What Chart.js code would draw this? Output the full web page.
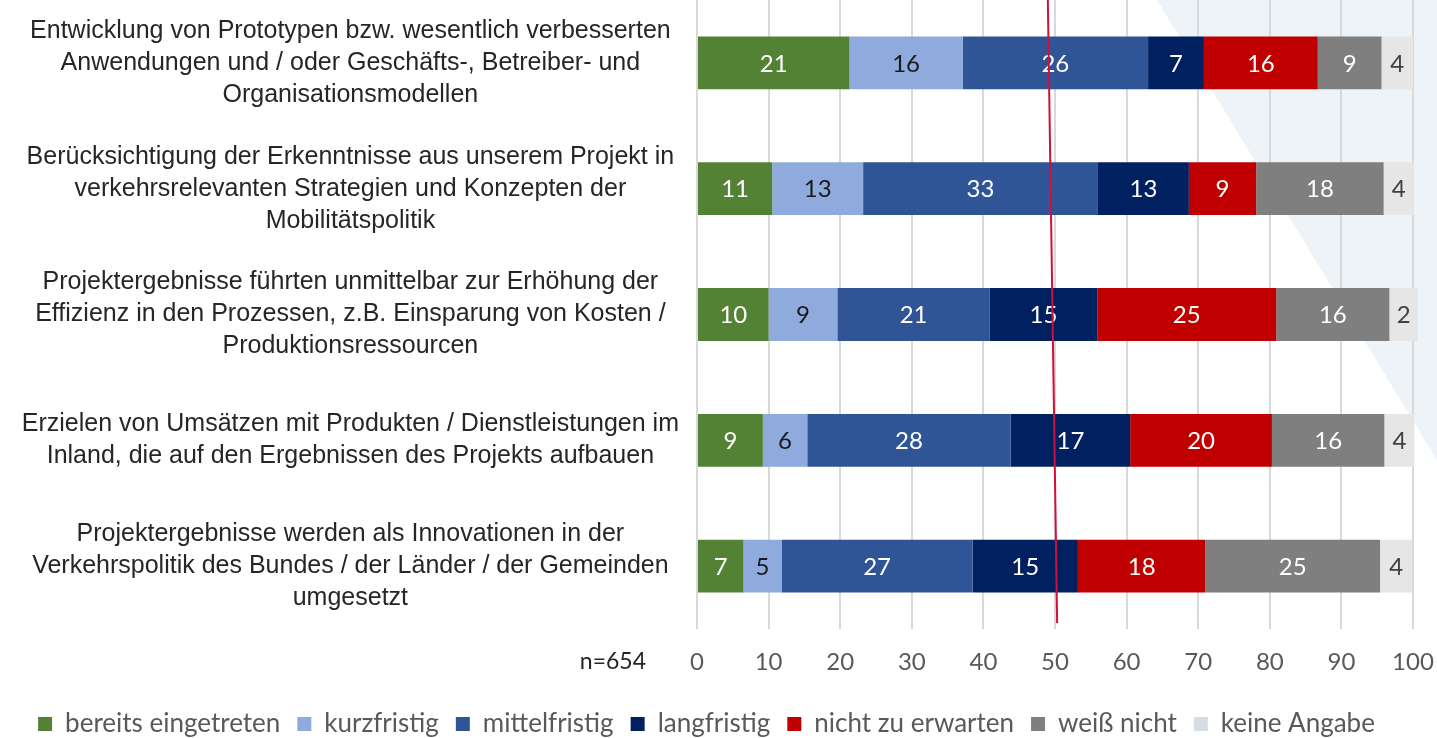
<!DOCTYPE html>
<html>
<head>
<meta charset="utf-8">
<script src="https://cdn.jsdelivr.net/npm/chart.js@4"></script>
<style>
  body { margin: 0; background: #fff; }
  #wrap { width: 1437px; height: 738px; }
</style>
</head>
<body>
<div id="wrap"><canvas id="chart" width="1437" height="738"></canvas></div>
<script>
const categories = [
  ["Entwicklung von Prototypen bzw. wesentlich verbesserten", "Anwendungen und / oder Geschäfts-, Betreiber- und", "Organisationsmodellen"],
  ["Berücksichtigung der Erkenntnisse aus unserem Projekt in", "verkehrsrelevanten Strategien und Konzepten der", "Mobilitätspolitik"],
  ["Projektergebnisse führten unmittelbar zur Erhöhung der", "Effizienz in den Prozessen, z.B. Einsparung von Kosten /", "Produktionsressourcen"],
  ["Erzielen von Umsätzen mit Produkten / Dienstleistungen im", "Inland, die auf den Ergebnissen des Projekts aufbauen"],
  ["Projektergebnisse werden als Innovationen in der", "Verkehrspolitik des Bundes / der Länder / der Gemeinden", "umgesetzt"]
];

const seriesNames = ["bereits eingetreten", "kurzfristig", "mittelfristig", "langfristig", "nicht zu erwarten", "weiß nicht", "keine Angabe"];

// bar lengths in percent
const bereitsEingetreten = [21.3, 10.5, 10.0, 9.2, 6.5];
const kurzfristig = [15.8, 12.7, 9.6, 6.2, 5.3];
const mittelfristig = [25.9, 32.8, 21.3, 28.4, 26.7];
const langfristig = [7.8, 12.7, 15.0, 16.7, 14.7];
const nichtZuErwarten = [15.9, 9.4, 25.0, 19.8, 17.8];
const weissNicht = [8.9, 17.8, 15.8, 15.7, 24.4];
const keineAngabe = [4.4, 4.2, 4.0, 4.2, 4.5];

// numbers printed on the bars
const printedBereits = [21, 11, 10, 9, 7];
const printedKurz = [16, 13, 9, 6, 5];
const printedMittel = [26, 33, 21, 28, 27];
const printedLang = [7, 13, 15, 17, 15];
const printedNicht = [16, 9, 25, 20, 18];
const printedWeiss = [9, 18, 16, 16, 25];
const printedKeine = [4, 4, 2, 4, 4];

const xTicks = [0, 10, 20, 30, 40, 50, 60, 70, 80, 90, 100];
const sampleNote = "n=654";
const markerTop = 49.0;
const markerBottom = 50.3;

const colors = ["#548235", "#8FAADC", "#2F5597", "#002060", "#C00000", "#7F7F7F", "#E7E6E6"];
const legendColors = ["#548235", "#8FAADC", "#2F5597", "#002060", "#C00000", "#7F7F7F", "#D6DCE5"];
const labelColors = ["#ffffff", "#1a1a1a", "#ffffff", "#ffffff", "#ffffff", "#ffffff", "#404040"];
const seriesValues = [bereitsEingetreten, kurzfristig, mittelfristig, langfristig, nichtZuErwarten, weissNicht, keineAngabe];
const printedValues = [printedBereits, printedKurz, printedMittel, printedLang, printedNicht, printedWeiss, printedKeine];

const numFont = "Lato, 'Open Sans', sans-serif";
const catFont = "'Liberation Sans Narrow', 'Arial Narrow', 'Liberation Sans', Arial, sans-serif";

const backdrop = {
  id: "backdrop",
  beforeDraw(chart) {
    const ctx = chart.ctx;
    ctx.save();
    ctx.fillStyle = "#EEF3F7";
    ctx.beginPath();
    ctx.moveTo(1157, 0);
    ctx.lineTo(chart.width, 0);
    ctx.lineTo(chart.width, 460);
    ctx.closePath();
    ctx.fill();
    ctx.restore();
  }
};

const barLabels = {
  id: "barLabels",
  afterDatasetsDraw(chart) {
    const ctx = chart.ctx;
    ctx.save();
    ctx.font = "24px " + numFont;
    ctx.textAlign = "center";
    ctx.textBaseline = "middle";
    chart.data.datasets.forEach((ds, i) => {
      const meta = chart.getDatasetMeta(i);
      meta.data.forEach((bar, j) => {
        ctx.fillStyle = labelColors[i];
        ctx.fillText(String(printedValues[i][j]), (bar.x + bar.base) / 2, bar.y + 1);
      });
    });

    // hand-drawn red marker line near 50
    const xs = chart.scales.x;
    const area = chart.chartArea;
    ctx.strokeStyle = "#D0103A";
    ctx.lineWidth = 2;
    ctx.beginPath();
    ctx.moveTo(xs.getPixelForValue(markerTop), area.top);
    ctx.lineTo(xs.getPixelForValue(markerBottom), area.bottom - 6);
    ctx.stroke();

    // sample size note left of the axis labels
    ctx.font = "23px " + numFont;
    ctx.fillStyle = "#262626";
    ctx.textAlign = "right";
    ctx.fillText(sampleNote, 646, area.bottom + 33);
    ctx.restore();
  }
};

const chart = new Chart(document.getElementById("chart"), {
  type: "bar",
  data: {
    labels: categories,
    datasets: seriesNames.map((name, i) => ({
      label: name,
      data: seriesValues[i],
      backgroundColor: colors[i],
      borderWidth: 0,
      barPercentage: 0.84,
      categoryPercentage: 0.5,
      clip: false
    }))
  },
  options: {
    indexAxis: "y",
    responsive: false,
    animation: false,
    layout: { padding: { top: 0, right: 24, left: 0, bottom: -9 } },
    scales: {
      x: {
        stacked: true,
        min: 0,
        max: 100,
        afterBuildTicks: (scale) => { scale.ticks = xTicks.map(v => ({ value: v })); },
        afterFit: (scale) => {
          scale.height = 65;
          scale.paddingLeft = 0;
          scale.paddingRight = 0;
        },
        grid: { color: "#D9D9D9", lineWidth: 2, drawTicks: false },
        border: { display: false },
        ticks: { color: "#595959", font: { family: numFont, size: 24 }, padding: 19 }
      },
      y: {
        stacked: true,
        grid: { display: false },
        border: { display: false },
        afterFit: (scale) => {
          scale.width = 697;
          scale.paddingTop = 0;
          scale.paddingBottom = 0;
        },
        ticks: {
          crossAlign: "center",
          color: "#262626",
          font: { family: catFont, size: 25, lineHeight: 1.28 },
          padding: 10
        }
      }
    },
    plugins: {
      legend: {
        position: "bottom",
        labels: {
          boxWidth: 14,
          boxHeight: 14,
          color: "#595959",
          font: { family: numFont, size: 26 },
          padding: 17,
          generateLabels: (chart) => chart.data.datasets.map((ds, i) => ({
            text: ds.label,
            fillStyle: legendColors[i],
            strokeStyle: legendColors[i],
            lineWidth: 0,
            fontColor: "#595959",
            datasetIndex: i
          }))
        }
      },
      tooltip: { enabled: false }
    }
  },
  plugins: [backdrop, barLabels]
});
</script>
</body>
</html>
